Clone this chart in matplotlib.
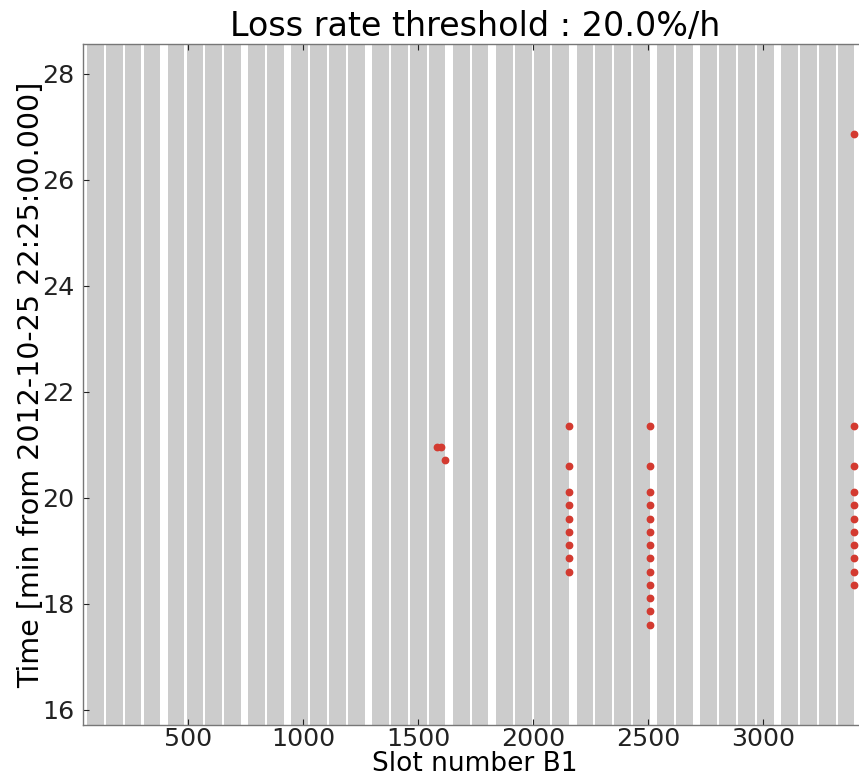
import matplotlib
matplotlib.use("Agg")
import matplotlib.pyplot as plt

# First slot of every 36-bunch batch (50 ns spacing, 2 slots per bunch)
batch_starts = [
    61, 143, 225, 307,
    412, 494, 576, 658,
    763, 845,
    950, 1032, 1114, 1196,
    1301, 1383, 1465, 1547,
    1652, 1734,
    1839, 1921, 2003, 2085,
    2190, 2272, 2354, 2436,
    2541, 2623,
    2728, 2810, 2892, 2974,
    3079, 3161, 3243, 3325,
]
bunches_per_batch = 36
bunch_spacing = 2

# Bunches exceeding the loss-rate threshold: slot number and time [min]
loss_slots = [
    1581, 1598, 1617,
    2155, 2155, 2155, 2155, 2155, 2155, 2155, 2155, 2155,
    2506, 2506, 2506, 2506, 2506, 2506, 2506, 2506, 2506, 2506, 2506, 2506, 2506,
    3395, 3395, 3395, 3395, 3395, 3395, 3395, 3395, 3395, 3395, 3395,
]
loss_times = [
    20.95, 20.95, 20.71,
    21.35, 20.60, 20.10, 19.85, 19.60, 19.35, 19.10, 18.85, 18.60,
    21.35, 20.60, 20.10, 19.85, 19.60, 19.35, 19.10, 18.85, 18.60, 18.35, 18.10, 17.85, 17.60,
    26.85, 21.35, 20.60, 20.10, 19.85, 19.60, 19.35, 19.10, 18.85, 18.60, 18.35,
]

x_ticks = [500, 1000, 1500, 2000, 2500, 3000]
y_ticks = [16, 18, 20, 22, 24, 26, 28]

fig = plt.figure(figsize=(8.59, 7.78), dpi=100, facecolor="white")
ax = fig.add_axes([82.7 / 859, 53 / 778, 784 / 859, 681 / 778])

# filled bunches as light grey bands
for start in batch_starts:
    last = start + (bunches_per_batch - 1) * bunch_spacing
    ax.axvspan(start - 1.5, last + 1.5, color="#cccccc", lw=0, zorder=1)

ax.plot(loss_slots, loss_times, "o", color="#d33a30", mec="#d33a30",
        ms=4.6, zorder=3, ls="none")

ax.set_xlim(41, 3450)
ax.set_ylim(15.708, 28.557)
ax.set_xticks(x_ticks)
ax.set_yticks(y_ticks)
ax.tick_params(direction="in", top=True, right=True, length=4, width=0.8,
               labelsize=18.3, colors="#222222")
ax.tick_params(axis="x", pad=1.5)
ax.tick_params(axis="y", pad=6)
for s in ax.spines.values():
    s.set_color("#777777")
    s.set_linewidth(1.0)

ax.set_title("Loss rate threshold : 20.0%/h", fontsize=24, pad=6)
ax.set_xlabel("Slot number B1", fontsize=19, labelpad=0)
ax.set_ylabel("Time [min from 2012-10-25 22:25:00.000]", fontsize=20.5, labelpad=-2)

fig.savefig("out.png", dpi=100, facecolor="white")
